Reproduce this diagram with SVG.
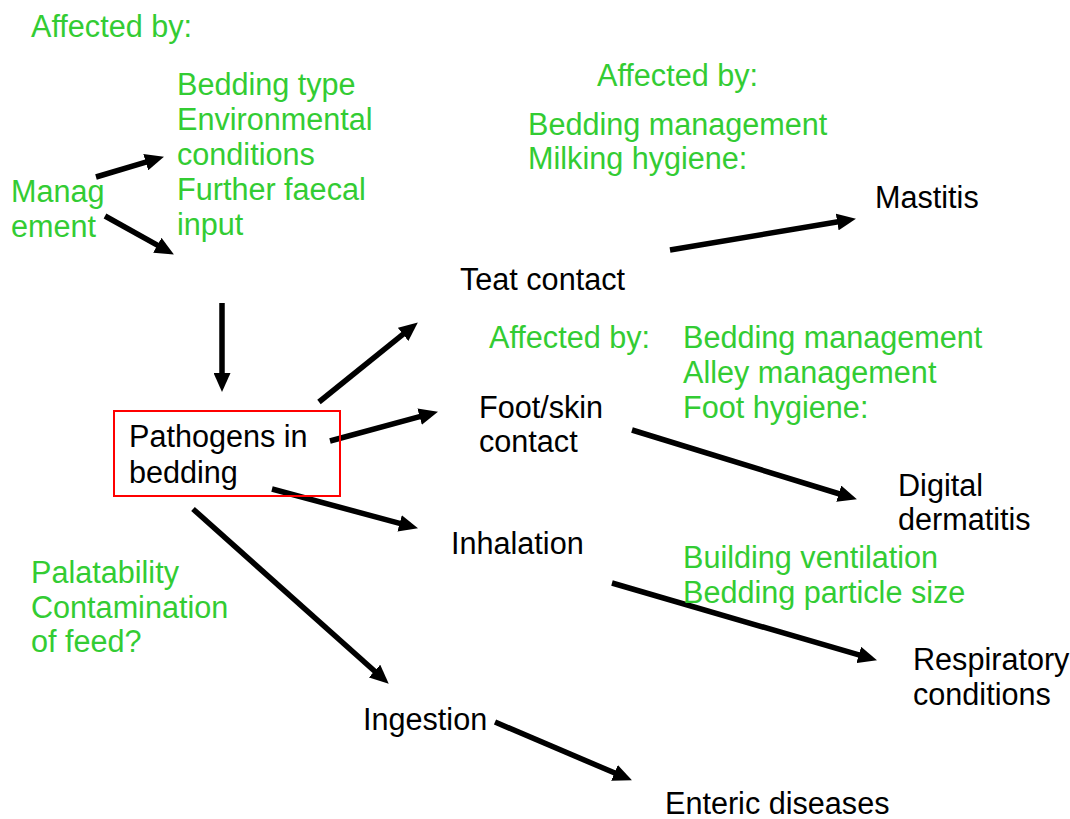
<svg xmlns="http://www.w3.org/2000/svg" width="1070" height="819" viewBox="0 0 1070 819">
<style>
text{font-family:"Liberation Sans",Arial,sans-serif;font-size:30.6px}
.g{fill:#33cc33}
.k{fill:#000}
.c line{stroke:#000;stroke-width:5.5;marker-end:url(#ah)}
</style>
<defs>
<marker id="ah" markerUnits="userSpaceOnUse" markerWidth="19" markerHeight="17" refX="1" refY="8.5" orient="auto">
<path d="M0,0 L19,8.5 L0,17 Z" fill="#000"/>
</marker>
</defs>
<rect width="1070" height="819" fill="#fff"/>
<g class="c" id="connectors">
<line x1="96" y1="177" x2="146.7" y2="161.9"/>
<line x1="105" y1="216" x2="158.2" y2="245.7"/>
<line x1="222" y1="303" x2="222" y2="374"/>
<line x1="319" y1="402" x2="403.8" y2="333.7"/>
<line x1="330" y1="441" x2="420.6" y2="416.4"/>
<line x1="272" y1="489" x2="400.6" y2="523.6"/>
<line x1="193" y1="509" x2="375.3" y2="671.7"/>
<line x1="670" y1="250" x2="838.2" y2="221.8"/>
<line x1="632" y1="430" x2="839.7" y2="494"/>
<line x1="612" y1="583" x2="859.7" y2="655.2"/>
<line x1="495" y1="722" x2="615.4" y2="773.3"/>
</g>
<g id="affected-top"><text class="g" x="31" y="37">Affected by:</text></g>
<g id="factors-bedding">
<text class="g" x="177" y="95">Bedding type</text>
<text class="g" x="177" y="130">Environmental</text>
<text class="g" x="177" y="165">conditions</text>
<text class="g" x="177" y="200">Further faecal</text>
<text class="g" x="177" y="235">input</text>
</g>
<g id="management">
<text class="g" x="11" y="202">Manag</text>
<text class="g" x="11" y="237">ement</text>
</g>
<g id="pathogens">
<rect x="114" y="411" width="226" height="85" fill="none" stroke="#ff0000" stroke-width="2"/>
<text class="k" x="129" y="447">Pathogens in</text>
<text class="k" x="129" y="483">bedding</text>
</g>
<g id="affected-teat">
<text class="g" x="597" y="86">Affected by:</text>
<text class="g" x="528" y="135">Bedding management</text>
<text class="g" x="528" y="169">Milking hygiene:</text>
</g>
<g id="mastitis"><text class="k" x="875" y="208">Mastitis</text></g>
<g id="teat"><text class="k" x="460" y="290">Teat contact</text></g>
<g id="affected-foot">
<text class="g" x="489" y="348">Affected by:</text>
<text class="g" x="683" y="348">Bedding management</text>
<text class="g" x="683" y="383">Alley management</text>
<text class="g" x="683" y="418">Foot hygiene:</text>
</g>
<g id="foot">
<text class="k" x="479" y="418">Foot/skin</text>
<text class="k" x="479" y="452">contact</text>
</g>
<g id="digital">
<text class="k" x="898" y="496">Digital</text>
<text class="k" x="898" y="530">dermatitis</text>
</g>
<g id="inhalation"><text class="k" x="451" y="554">Inhalation</text></g>
<g id="affected-inhal">
<text class="g" x="683" y="568">Building ventilation</text>
<text class="g" x="683" y="603">Bedding particle size</text>
</g>
<g id="respiratory">
<text class="k" x="913" y="670">Respiratory</text>
<text class="k" x="913" y="705">conditions</text>
</g>
<g id="affected-ingest">
<text class="g" x="31" y="583">Palatability</text>
<text class="g" x="31" y="618">Contamination</text>
<text class="g" x="31" y="652">of feed?</text>
</g>
<g id="ingestion"><text class="k" x="363" y="730">Ingestion</text></g>
<g id="enteric"><text class="k" x="665" y="814">Enteric diseases</text></g>
</svg>
